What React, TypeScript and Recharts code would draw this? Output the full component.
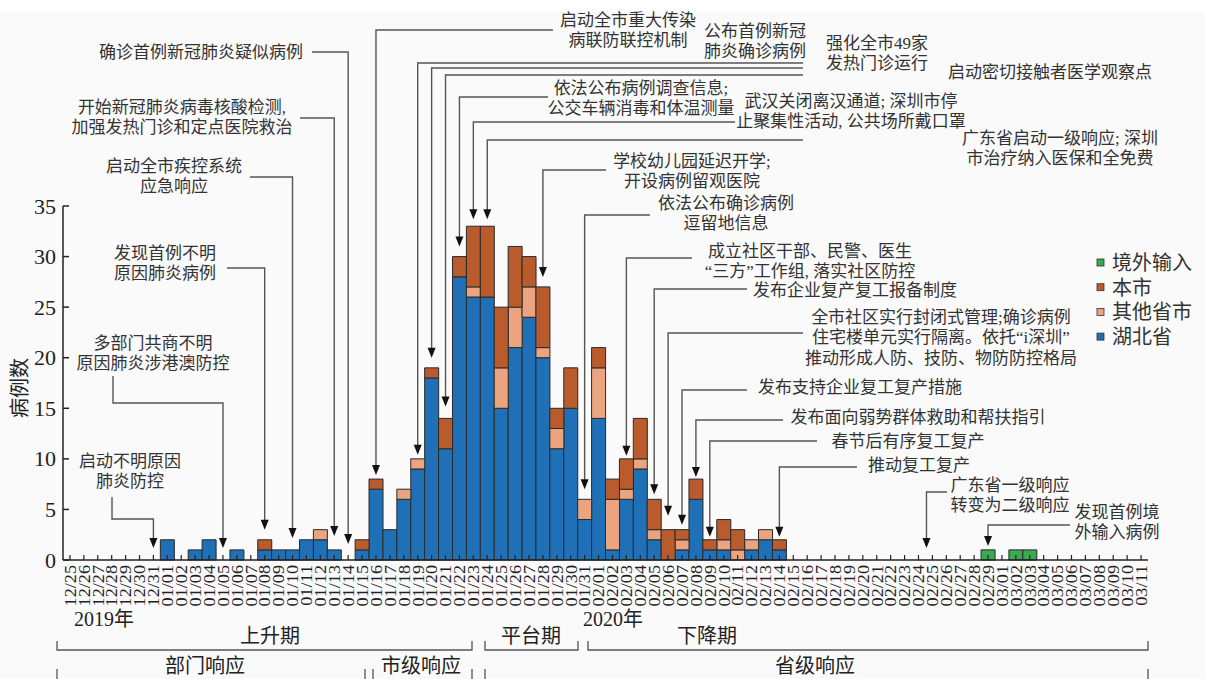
import React from "react";
import { BarChart, Bar, XAxis, YAxis, ReferenceDot } from "recharts";

const FONT = "'Liberation Serif', 'Noto Sans CJK SC', serif";

// category labels, one per day
const decDates = ["12/25", "12/26", "12/27", "12/28", "12/29", "12/30", "12/31"];
const janDates = [
  "01/01", "01/02", "01/03", "01/04", "01/05", "01/06", "01/07", "01/08", "01/09", "01/10",
  "01/11", "01/12", "01/13", "01/14", "01/15", "01/16", "01/17", "01/18", "01/19", "01/20",
  "01/21", "01/22", "01/23", "01/24", "01/25", "01/26", "01/27", "01/28", "01/29", "01/30", "01/31",
];
const febDates = [
  "02/01", "02/02", "02/03", "02/04", "02/05", "02/06", "02/07", "02/08", "02/09", "02/10",
  "02/11", "02/12", "02/13", "02/14", "02/15", "02/16", "02/17", "02/18", "02/19", "02/20",
  "02/21", "02/22", "02/23", "02/24", "02/25", "02/26", "02/27", "02/28", "02/29",
];
const marDates = ["03/01", "03/02", "03/03", "03/04", "03/05", "03/06", "03/07", "03/08", "03/09", "03/10", "03/11"];

// 湖北省
const hubeiDec = [0, 0, 0, 0, 0, 0, 0];
const hubeiJan = [2, 0, 1, 2, 0, 1, 0, 1, 1, 1, 2, 2, 1, 0, 1, 7, 3, 6, 9, 18, 11, 28, 26, 26, 15, 21, 24, 20, 11, 15, 4];
const hubeiFeb = [14, 1, 6, 9, 2, 0, 1, 6, 1, 1, 0, 1, 2, 1, 0, 0, 0, 0, 0, 0, 0, 0, 0, 0, 0, 0, 0, 0, 0];
const hubeiMar = [0, 0, 0, 0, 0, 0, 0, 0, 0, 0, 0];
// 其他省市
const otherDec = [0, 0, 0, 0, 0, 0, 0];
const otherJan = [0, 0, 0, 0, 0, 0, 0, 0, 0, 0, 0, 1, 0, 0, 0, 0, 0, 1, 1, 0, 0, 0, 1, 0, 4, 4, 3, 1, 2, 0, 2];
const otherFeb = [5, 5, 1, 1, 1, 0, 1, 0, 0, 1, 1, 1, 1, 0, 0, 0, 0, 0, 0, 0, 0, 0, 0, 0, 0, 0, 0, 0, 0];
const otherMar = [0, 0, 0, 0, 0, 0, 0, 0, 0, 0, 0];
// 本市
const localDec = [0, 0, 0, 0, 0, 0, 0];
const localJan = [0, 0, 0, 0, 0, 0, 0, 1, 0, 0, 0, 0, 0, 0, 1, 1, 0, 0, 0, 1, 3, 2, 6, 7, 6, 6, 3, 6, 2, 4, 0];
const localFeb = [2, 2, 3, 4, 3, 3, 1, 2, 1, 2, 2, 0, 0, 1, 0, 0, 0, 0, 0, 0, 0, 0, 0, 0, 0, 0, 0, 0, 0];
const localMar = [0, 0, 0, 0, 0, 0, 0, 0, 0, 0, 0];
// 境外输入
const importDec = [0, 0, 0, 0, 0, 0, 0];
const importJan = [0, 0, 0, 0, 0, 0, 0, 0, 0, 0, 0, 0, 0, 0, 0, 0, 0, 0, 0, 0, 0, 0, 0, 0, 0, 0, 0, 0, 0, 0, 0];
const importFeb = [0, 0, 0, 0, 0, 0, 0, 0, 0, 0, 0, 0, 0, 0, 0, 0, 0, 0, 0, 0, 0, 0, 0, 0, 0, 0, 0, 0, 1];
const importMar = [0, 1, 1, 0, 0, 0, 0, 0, 0, 0, 0];

const dates = [...decDates, ...janDates, ...febDates, ...marDates];
const hubei = [...hubeiDec, ...hubeiJan, ...hubeiFeb, ...hubeiMar];
const other = [...otherDec, ...otherJan, ...otherFeb, ...otherMar];
const local = [...localDec, ...localJan, ...localFeb, ...localMar];
const imported = [...importDec, ...importJan, ...importFeb, ...importMar];

const yTicks = [0, 5, 10, 15, 20, 25, 30, 35];

const data = dates.map((date, i) => ({
  date,
  hubei: hubei[i],
  other: other[i],
  local: local[i],
  imported: imported[i],
}));

const totalAt = (d: string) => {
  const i = dates.indexOf(d);
  return hubei[i] + other[i] + local[i] + imported[i];
};

const BLUE = "#1f70b6";
const LIGHT = "#eba480";
const DARK = "#b95b2c";
const GREEN = "#3aaa50";

const legendItems = [
  { name: "境外输入", color: GREEN },
  { name: "本市", color: DARK },
  { name: "其他省市", color: LIGHT },
  { name: "湖北省", color: BLUE },
];

type Note = {
  date: string;
  text: string[];
  tx: number;
  ty: number;
  anchor?: "start" | "middle";
  sx: number;
  hy: number;
  sy?: number;
  gap?: number;
  dx?: number;
};

const notes: Note[] = [
  { date: "12/31", text: ["启动不明原因", "肺炎防控"], tx: 130, ty: 461, sx: 112, sy: 497, hy: 519, gap: 12 },
  { date: "01/05", text: ["多部门共商不明", "原因肺炎涉港澳防控"], tx: 153, ty: 343, sx: 113, sy: 376, hy: 403, gap: 12 },
  { date: "01/08", text: ["发现首例不明", "原因肺炎病例"], tx: 165, ty: 253, sx: 227, hy: 268, gap: 10 },
  { date: "01/10", text: ["启动全市疾控系统", "应急响应"], tx: 174, ty: 166, sx: 250, hy: 177, gap: 12 },
  { date: "01/13", text: ["开始新冠肺炎病毒核酸检测,", "加强发热门诊和定点医院救治"], tx: 182, ty: 107, sx: 300, hy: 118, gap: 14 },
  { date: "01/14", text: ["确诊首例新冠肺炎疑似病例"], tx: 201, ty: 52, sx: 312, hy: 52, gap: 16 },
  { date: "01/16", text: ["启动全市重大传染", "病联防联控机制"], tx: 628, ty: 20, sx: 553, hy: 30, gap: 4 },
  { date: "01/19", text: ["公布首例新冠", "肺炎确诊病例"], tx: 755, ty: 31, sx: 803, hy: 63, gap: 4 },
  { date: "01/20", text: ["启动密切接触者医学观察点"], tx: 948, ty: 72, anchor: "start", sx: 803, hy: 68, gap: 10 },
  { date: "01/21", text: ["强化全市49家", "发热门诊运行"], tx: 826, ty: 43, anchor: "start", sx: 803, hy: 75, gap: 12 },
  { date: "01/22", text: ["依法公布病例调查信息;", "公交车辆消毒和体温测量"], tx: 641, ty: 88, sx: 548, hy: 97, gap: 10 },
  { date: "01/23", text: ["武汉关闭离汉通道; 深圳市停", "止聚集性活动, 公共场所戴口罩"], tx: 851, ty: 101, sx: 735, hy: 122, gap: 7 },
  { date: "01/24", text: ["广东省启动一级响应; 深圳", "市治疗纳入医保和全免费"], tx: 1060, ty: 138, sx: 803, hy: 140, gap: 7 },
  { date: "01/28", text: ["学校幼儿园延迟开学;", "开设病例留观医院"], tx: 692, ty: 161, sx: 606, hy: 170, gap: 10 },
  { date: "01/31", text: ["依法公布确诊病例", "逗留地信息"], tx: 726, ty: 203, sx: 650, hy: 215, gap: 10 },
  { date: "02/03", text: ["成立社区干部、民警、医生", "“三方”工作组, 落实社区防控"], tx: 810, ty: 251, sx: 692, hy: 258, gap: 3 },
  { date: "02/05", text: ["发布企业复产复工报备制度"], tx: 855, ty: 290, sx: 747, hy: 289, gap: 5 },
  {
    date: "02/06",
    text: ["全市社区实行封闭式管理;确诊病例", "住宅楼单元实行隔离。依托“i深圳”", "推动形成人防、技防、物防防控格局"],
    tx: 941, ty: 317, sx: 803, hy: 333, gap: 14,
  },
  { date: "02/07", text: ["发布支持企业复工复产措施"], tx: 860, ty: 387, sx: 747, hy: 390, gap: 5 },
  { date: "02/08", text: ["发布面向弱势群体救助和帮扶指引"], tx: 918, ty: 417, sx: 783, hy: 420, gap: 2 },
  { date: "02/09", text: ["春节后有序复工复产"], tx: 908, ty: 441, sx: 817, hy: 441, gap: 3 },
  { date: "02/14", text: ["推动复工复产"], tx: 919, ty: 465, sx: 857, hy: 467, gap: 3 },
  { date: "02/24", text: ["广东省一级响应", "转变为二级响应"], tx: 1010, ty: 485, sx: 947, hy: 492, gap: 12, dx: 8 },
  { date: "02/29", text: ["发现首例境", "外输入病例"], tx: 1117, ty: 512, sx: 1070, hy: 525, gap: 4 },
];

const NoteMark = ({ cx, cy, note }: any) => {
  const x = cx + (note.dx || 0);
  const tip = cy - (note.gap ?? 8);
  const start = note.sy ?? note.hy;
  return (
    <g>
      {note.text.map((t: string, k: number) => (
        <text
          key={k}
          x={note.tx}
          y={note.ty + k * 20.5}
          textAnchor={note.anchor || "middle"}
          dominantBaseline="central"
          fontSize={17}
          fontFamily={FONT}
          fill="#333"
        >
          {t}
        </text>
      ))}
      <path
        d={`M${note.sx},${start} L${note.sx},${note.hy} L${x},${note.hy} L${x},${tip - 9}`}
        fill="none"
        stroke="#555"
        strokeWidth={1.4}
      />
      <path d={`M${x - 4},${tip - 10} L${x + 4},${tip - 10} L${x},${tip} Z`} fill="#111" />
    </g>
  );
};

const XTick = ({ x, y, payload }: any) => {
  const axisY = y - 3;
  return (
    <g>
      <line x1={x} x2={x} y1={axisY} y2={axisY - 5} stroke="#222" strokeWidth={1.2} />
      <text
        x={0}
        y={0}
        transform={`translate(${x} ${y + 2}) rotate(-90) scale(1.07 1)`}
        textAnchor="end"
        dominantBaseline="central"
        fontSize={17}
        fontFamily={FONT}
        fill="#222"
      >
        {payload.value}
      </text>
    </g>
  );
};

const YTick = ({ x, y, payload }: any) => (
  <g>
    <line x1={x + 6} x2={x + 12} y1={y} y2={y} stroke="#222" strokeWidth={1.5} />
    <text x={x - 1} y={y} textAnchor="end" dominantBaseline="central" fontSize={22} fontFamily={FONT} fill="#222">
      {payload.value}
    </text>
  </g>
);

const brackets = [
  [57, 472],
  [485, 578],
  [588, 1148],
];
const bracketsLow = [
  [57, 365],
  [373, 472],
  [485, 1148],
];

const Overlay = () => (
  <svg width={1205} height={679} style={{ position: "absolute", left: 0, top: 0, pointerEvents: "none" }}>
    <text
      x={20}
      y={388}
      transform="rotate(-90 20 388)"
      textAnchor="middle"
      dominantBaseline="central"
      fontSize={20}
      fontFamily={FONT}
      fill="#222"
    >
      病例数
    </text>
    {legendItems.map((l, i) => (
      <g key={l.name}>
        <rect x={1097} y={259 + i * 24.7} width={7} height={7} fill={l.color} stroke="#333" strokeWidth={0.8} />
        <text x={1112} y={263 + i * 24.7} dominantBaseline="central" fontSize={20} fontFamily={FONT} fill="#333">
          {l.name}
        </text>
      </g>
    ))}
    <text x={74} y={619} dominantBaseline="central" fontSize={20} fontFamily={FONT} fill="#222">2019年</text>
    <text x={583} y={619} dominantBaseline="central" fontSize={20} fontFamily={FONT} fill="#222">2020年</text>
    <text x={270} y={636} textAnchor="middle" dominantBaseline="central" fontSize={20} fontFamily={FONT} fill="#222">上升期</text>
    <text x={531} y={636} textAnchor="middle" dominantBaseline="central" fontSize={20} fontFamily={FONT} fill="#222">平台期</text>
    <text x={707} y={636} textAnchor="middle" dominantBaseline="central" fontSize={20} fontFamily={FONT} fill="#222">下降期</text>
    <text x={205} y={666} textAnchor="middle" dominantBaseline="central" fontSize={20} fontFamily={FONT} fill="#222">部门响应</text>
    <text x={421} y={666} textAnchor="middle" dominantBaseline="central" fontSize={20} fontFamily={FONT} fill="#222">市级响应</text>
    <text x={815} y={666} textAnchor="middle" dominantBaseline="central" fontSize={20} fontFamily={FONT} fill="#222">省级响应</text>
    {brackets.map(([a, b], i) => (
      <path key={i} d={`M${a},641 V650 H${b} V641`} fill="none" stroke="#555" strokeWidth={1.3} />
    ))}
    {bracketsLow.map(([a, b], i) => (
      <path key={i} d={`M${a},669 V681 H${b} V669`} fill="none" stroke="#555" strokeWidth={1.3} />
    ))}
  </svg>
);

export default function App() {
  return (
    <div style={{ position: "fixed", left: 0, top: 0, width: 1205, height: 679, background: "#fafafa" }}>
      <div style={{ position: "absolute", left: 0, top: 0, width: 1205, height: 12, background: "#fff" }} />
      <div style={{ position: "absolute", left: 0, top: 0 }}>
        <BarChart
          width={1205}
          height={679}
          data={data}
          margin={{ top: 206, right: 57, bottom: 0, left: 0 }}
          barCategoryGap={0}
        >
          <XAxis
            dataKey="date"
            interval={0}
            height={119}
            tickSize={0}
            tickMargin={3}
            tickLine={false}
            axisLine={{ stroke: "#222", strokeWidth: 1.5 }}
            tick={<XTick />}
          />
          <YAxis
            width={63}
            domain={[0, 35]}
            ticks={yTicks}
            interval={0}
            tickSize={0}
            tickMargin={6}
            tickLine={false}
            axisLine={{ stroke: "#222", strokeWidth: 1.5 }}
            tick={<YTick />}
          />
          <Bar dataKey="hubei" name="湖北省" stackId="a" fill={BLUE} stroke="#2a2a2a" strokeWidth={1} isAnimationActive={false} />
          <Bar dataKey="other" name="其他省市" stackId="a" fill={LIGHT} stroke="#2a2a2a" strokeWidth={1} isAnimationActive={false} />
          <Bar dataKey="local" name="本市" stackId="a" fill={DARK} stroke="#2a2a2a" strokeWidth={1} isAnimationActive={false} />
          <Bar dataKey="imported" name="境外输入" stackId="a" fill={GREEN} stroke="#2a2a2a" strokeWidth={1} isAnimationActive={false} />
          {notes.map((n) => (
            <ReferenceDot
              key={n.date}
              x={n.date}
              y={totalAt(n.date)}
              r={0}
              ifOverflow="visible"
              shape={(p: any) => <NoteMark {...p} note={n} />}
            />
          ))}
        </BarChart>
      </div>
      <Overlay />
    </div>
  );
}
